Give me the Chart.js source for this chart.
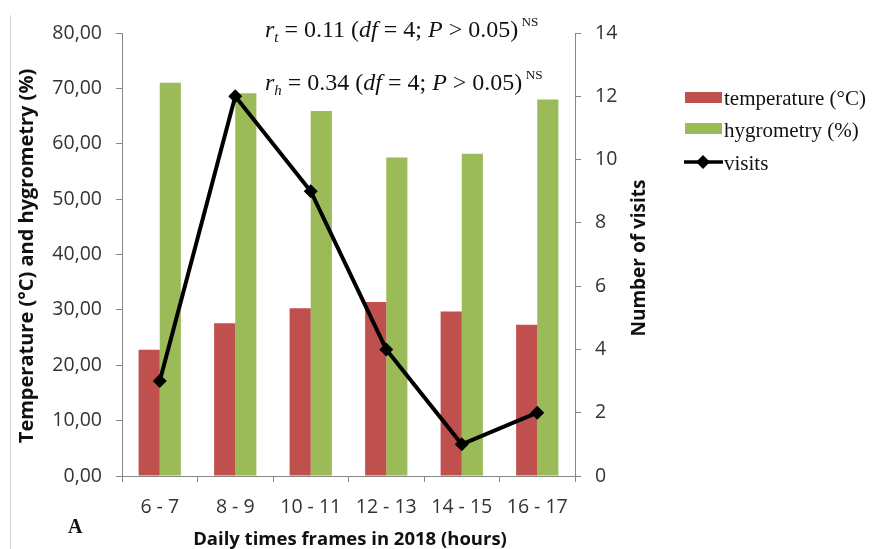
<!DOCTYPE html>
<html>
<head>
<meta charset="utf-8">
<script src="https://cdn.jsdelivr.net/npm/chart.js@4.4.1/dist/chart.umd.min.js"></script>
<style>
  html, body { margin: 0; padding: 0; background: #fff; }
  #wrap { width: 874px; height: 549px; }
</style>
</head>
<body>
<div id="wrap"><canvas id="chart" width="874" height="549"></canvas></div>
<script>
// ─── Data ─────────────────────────────────────────────────────
const timeFrames  = ['6 - 7', '8 - 9', '10 - 11', '12 - 13', '14 - 15', '16 - 17'];
const temperature = [22.8, 27.6, 30.3, 31.4, 29.7, 27.3];
const hygrometry  = [71.0, 69.1, 65.9, 57.5, 58.2, 68.0];
const visits      = [3, 12, 9, 4, 1, 2];

const seriesNames = ['temperature (°C)', 'hygrometry (%)', 'visits'];
const leftTitle   = 'Temperature (°C) and hygrometry (%)';
const rightTitle  = 'Number of visits';
const bottomTitle = 'Daily times frames in 2018 (hours)';
const panelLetter = 'A';

const COLORS = {
  red:   '#C0504D',
  green: '#9BBB59',
  line:  '#000000',
  axis:  '#868686',
  tick:  '#333333',
  title: '#111111',
};

const SANS  = "'Open Sans', sans-serif";
const SERIF = "'Liberation Serif', serif";

// ─── Helpers ──────────────────────────────────────────────────
function drawRich(ctx, x, y, parts, size) {
  parts.forEach(p => {
    const sz = p.sub ? size * 0.62 : p.sup ? size * 0.55 : size;
    const dy = p.sub ? size * 0.22 : p.sup ? -size * 0.45 : 0;
    ctx.font = (p.i ? 'italic ' : '') + sz + 'px ' + SERIF;
    ctx.fillText(p.t, x, y + dy);
    x += ctx.measureText(p.t).width;
  });
}

function vText(ctx, text, x, y, font) {
  ctx.save();
  ctx.font = font;
  ctx.translate(x, y); ctx.rotate(-Math.PI / 2);
  ctx.fillText(text, 0, 0);
  ctx.restore();
}

// ─── Overlay: annotations, legend, axis titles ────────────────
const overlay = {
  id: 'overlay',
  afterDraw(chart) {
    const ctx = chart.ctx;
    ctx.save();
    ctx.fillStyle = '#111';
    ctx.textAlign = 'left';
    ctx.textBaseline = 'alphabetic';

    // faint frame line on the left
    ctx.strokeStyle = '#d9d9d9';
    ctx.lineWidth = 1;
    ctx.beginPath(); ctx.moveTo(10.5, 15); ctx.lineTo(10.5, 549); ctx.stroke();

    // correlation notes
    drawRich(ctx, 265, 37, [
      { t: 'r', i: 1 }, { t: 't', i: 1, sub: 1 }, { t: ' = 0.11 (' }, { t: 'df', i: 1 },
      { t: ' = 4; ' }, { t: 'P', i: 1 }, { t: ' > 0.05)' }, { t: ' NS', sup: 1 }
    ], 24);
    drawRich(ctx, 265, 90, [
      { t: 'r', i: 1 }, { t: 'h', i: 1, sub: 1 }, { t: ' = 0.34 (' }, { t: 'df', i: 1 },
      { t: ' = 4; ' }, { t: 'P', i: 1 }, { t: ' > 0.05)' }, { t: ' NS', sup: 1 }
    ], 24);

    // legend
    ctx.fillStyle = COLORS.red;
    ctx.fillRect(685, 92, 37, 11);
    ctx.fillStyle = COLORS.green;
    ctx.fillRect(685, 123, 37, 11);
    ctx.strokeStyle = COLORS.line;
    ctx.lineWidth = 3.5;
    ctx.beginPath(); ctx.moveTo(684, 162); ctx.lineTo(723, 162); ctx.stroke();
    ctx.fillStyle = COLORS.line;
    ctx.beginPath();
    ctx.moveTo(703, 155); ctx.lineTo(710, 162); ctx.lineTo(703, 169); ctx.lineTo(696, 162);
    ctx.closePath(); ctx.fill();
    ctx.fillStyle = '#111';
    ctx.font = '21px ' + SERIF;
    ctx.fillText(seriesNames[0], 724, 105);
    ctx.fillText(seriesNames[1], 724, 137);
    ctx.fillText(seriesNames[2], 724, 170);

    // axis titles
    ctx.fillStyle = COLORS.title;
    ctx.textAlign = 'center';
    ctx.textBaseline = 'middle';
    vText(ctx, leftTitle, 27, 256, 'bold 20px ' + SANS);
    vText(ctx, rightTitle, 640, 258, 'bold 19px ' + SANS);
    ctx.font = 'bold 18.5px ' + SANS;
    ctx.fillText(bottomTitle, 350, 540);

    // panel letter
    ctx.textAlign = 'left';
    ctx.textBaseline = 'alphabetic';
    ctx.font = 'bold 20px ' + SERIF;
    ctx.fillStyle = '#111';
    ctx.fillText(panelLetter, 68, 533);
    ctx.restore();
  }
};

// ─── Chart ────────────────────────────────────────────────────
const axisGrid = { drawOnChartArea: false, drawTicks: true, tickLength: 6, color: COLORS.axis };
const axisBorder = { display: true, color: COLORS.axis, width: 1 };
const tickFont = { family: SANS, size: 19.5 };

new Chart(document.getElementById('chart'), {
  type: 'bar',
  data: {
    labels: timeFrames,
    datasets: [
      { label: seriesNames[0], data: temperature, backgroundColor: COLORS.red, yAxisID: 'y', order: 2,
        categoryPercentage: 0.56, barPercentage: 1 },
      { label: seriesNames[1], data: hygrometry, backgroundColor: COLORS.green, yAxisID: 'y', order: 2,
        categoryPercentage: 0.56, barPercentage: 1 },
      { label: seriesNames[2], data: visits, type: 'line', yAxisID: 'y1', order: 0,
        borderColor: COLORS.line, backgroundColor: COLORS.line, borderWidth: 4, tension: 0,
        pointStyle: 'rectRot', pointRadius: 7, pointBorderWidth: 0, pointBackgroundColor: COLORS.line }
    ]
  },
  options: {
    responsive: false,
    animation: false,
    layout: { padding: { top: 33, left: 0, right: 0, bottom: 0 } },
    plugins: { legend: { display: false }, tooltip: { enabled: false } },
    scales: {
      x: {
        grid: { ...axisGrid, offset: true },
        border: axisBorder,
        ticks: { font: tickFont, color: COLORS.tick, padding: 14, maxRotation: 0 },
        afterFit: s => { s.height = 73; }
      },
      y: {
        position: 'left', min: 0, max: 80,
        grid: axisGrid, border: axisBorder,
        ticks: { stepSize: 10, font: tickFont, color: COLORS.tick, padding: 14,
                 callback: v => v.toFixed(2).replace('.', ',') },
        afterFit: s => { s.width = 122; }
      },
      y1: {
        position: 'right', min: 0, max: 14,
        grid: axisGrid, border: axisBorder,
        ticks: { stepSize: 2, font: tickFont, color: COLORS.tick, padding: 14 },
        afterFit: s => { s.width = 299; }
      }
    }
  },
  plugins: [overlay]
});
</script>
</body>
</html>
